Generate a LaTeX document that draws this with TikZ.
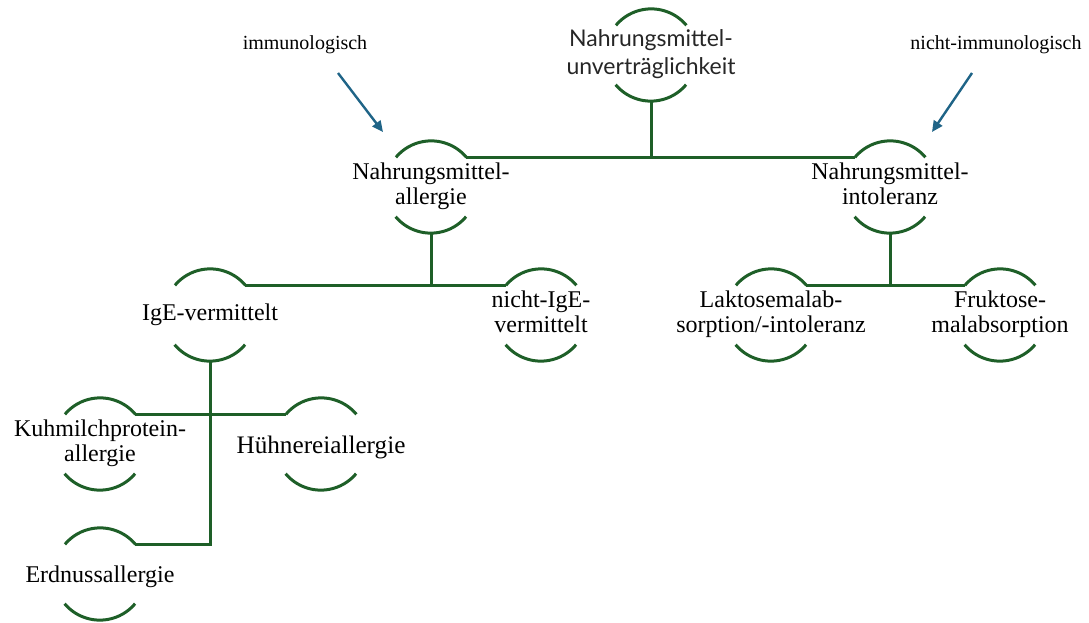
\documentclass[tikz,border=0pt]{standalone}
\usepackage{fontspec}
\setmainfont{Liberation Serif}
\newfontfamily\bodyfont{Liberation Serif}
\newfontfamily\headfont{Lato}
\usetikzlibrary{arrows.meta,calc}
\definecolor{treegreen}{RGB}{30,95,40}
\definecolor{arrowblue}{RGB}{31,100,135}
\newcommand{\twolines}[2]{\begin{tabular}{@{}c@{}}#1\\#2\end{tabular}}
\begin{document}
\begin{tikzpicture}[x=1pt,y=1pt,
  ring/.style={circle,minimum size=92pt,inner sep=0pt},
  % body text is set at 20pt and enlarged with the node
  txt/.style={inner sep=0pt,scale=1.2,transform shape,font=\bodyfont\fontsize{20}{20.8}\selectfont},
  headtxt/.style={inner sep=0pt,text=black!85,font=\headfont\fontsize{23}{28}\selectfont},
  side/.style={inner sep=0pt,font=\bodyfont\fontsize{20}{22}\selectfont},
  branch/.style={draw=treegreen,line width=3pt},
  pointer/.style={draw=arrowblue,line width=2.4pt,-{Triangle[length=11pt,width=10pt]}}]
\useasboundingbox (0,0) rectangle (1089,-623);

% ring frames (invisible circles) used for the arcs and connectors
\node[ring] (top) at (651,-55) {};
\node[ring] (allergie) at (431,-187) {};
\node[ring] (intoleranz) at (890,-187) {};
\node[ring] (ige) at (210,-315) {};
\node[ring] (nichtige) at (541,-315) {};
\node[ring] (laktose) at (771,-315) {};
\node[ring] (fruktose) at (1000,-315) {};
\node[ring] (kuhmilch) at (100,-444) {};
\node[ring] (huehnerei) at (321,-444) {};
\node[ring] (erdnuss) at (100,-574) {};

% texts inside the rings
\node[txt] (allergie-t) at (allergie.center) {\twolines{Nahrungsmittel-}{allergie}};
\node[txt] (intoleranz-t) at (intoleranz.center) {\twolines{Nahrungsmittel-}{intoleranz}};
\node[txt] (ige-t) at (ige.center) {IgE-vermittelt};
\node[txt] (nichtige-t) at (nichtige.center) {\twolines{nicht-IgE-}{vermittelt}};
\node[txt] (laktose-t) at (laktose.center) {\twolines{Laktosemalab-}{sorption/-intoleranz}};
\node[txt] (fruktose-t) at (fruktose.center) {\twolines{Fruktose-}{malabsorption}};
\node[txt] (kuhmilch-t) at (kuhmilch.center) {\twolines{Kuhmilchprotein-}{allergie}};
\node[txt,scale=1.05] (huehnerei-t) at ([yshift=-3pt]huehnerei.center) {Hühnereiallergie};
\node[txt] (erdnuss-t) at ([yshift=-3pt]erdnuss.center) {Erdnussallergie};
\node[headtxt] (top-t) at (top.center) {\twolines{Nahrungsmittel-}{unverträglichkeit}};

% open arcs above and below each node
\foreach \n in {top,allergie,intoleranz,ige,nichtige,laktose,fruktose,kuhmilch,huehnerei,erdnuss}
  \draw[branch] (\n.40) arc[start angle=40,end angle=140,radius=46pt]
                (\n.220) arc[start angle=220,end angle=320,radius=46pt];

% tree connectors
\draw[branch] (top.south) -- (top.south |- allergie.40);
\draw[branch] (allergie.40) -- (intoleranz.140);
\draw[branch] (allergie.south) -- (allergie.south |- ige.40);
\draw[branch] (ige.40) -- (nichtige.140);
\draw[branch] (intoleranz.south) -- (intoleranz.south |- laktose.40);
\draw[branch] (laktose.40) -- (fruktose.140);
\draw[branch] (kuhmilch.40) -- (huehnerei.140);
\draw[branch] (ige.south) |- (erdnuss.40);

% side annotations
\node[side] (imm) at (305,-45) {immunologisch};
\node[side] (nimm) at (996,-45) {nicht-immunologisch};
\coordinate (immfrom) at (338,-73);
\coordinate (immto) at (383,-132);
\coordinate (nimmfrom) at (972,-73);
\coordinate (nimmto) at (932,-132);
\draw[pointer] (immfrom) -- (immto);
\draw[pointer] (nimmfrom) -- (nimmto);
\end{tikzpicture}
\end{document}
